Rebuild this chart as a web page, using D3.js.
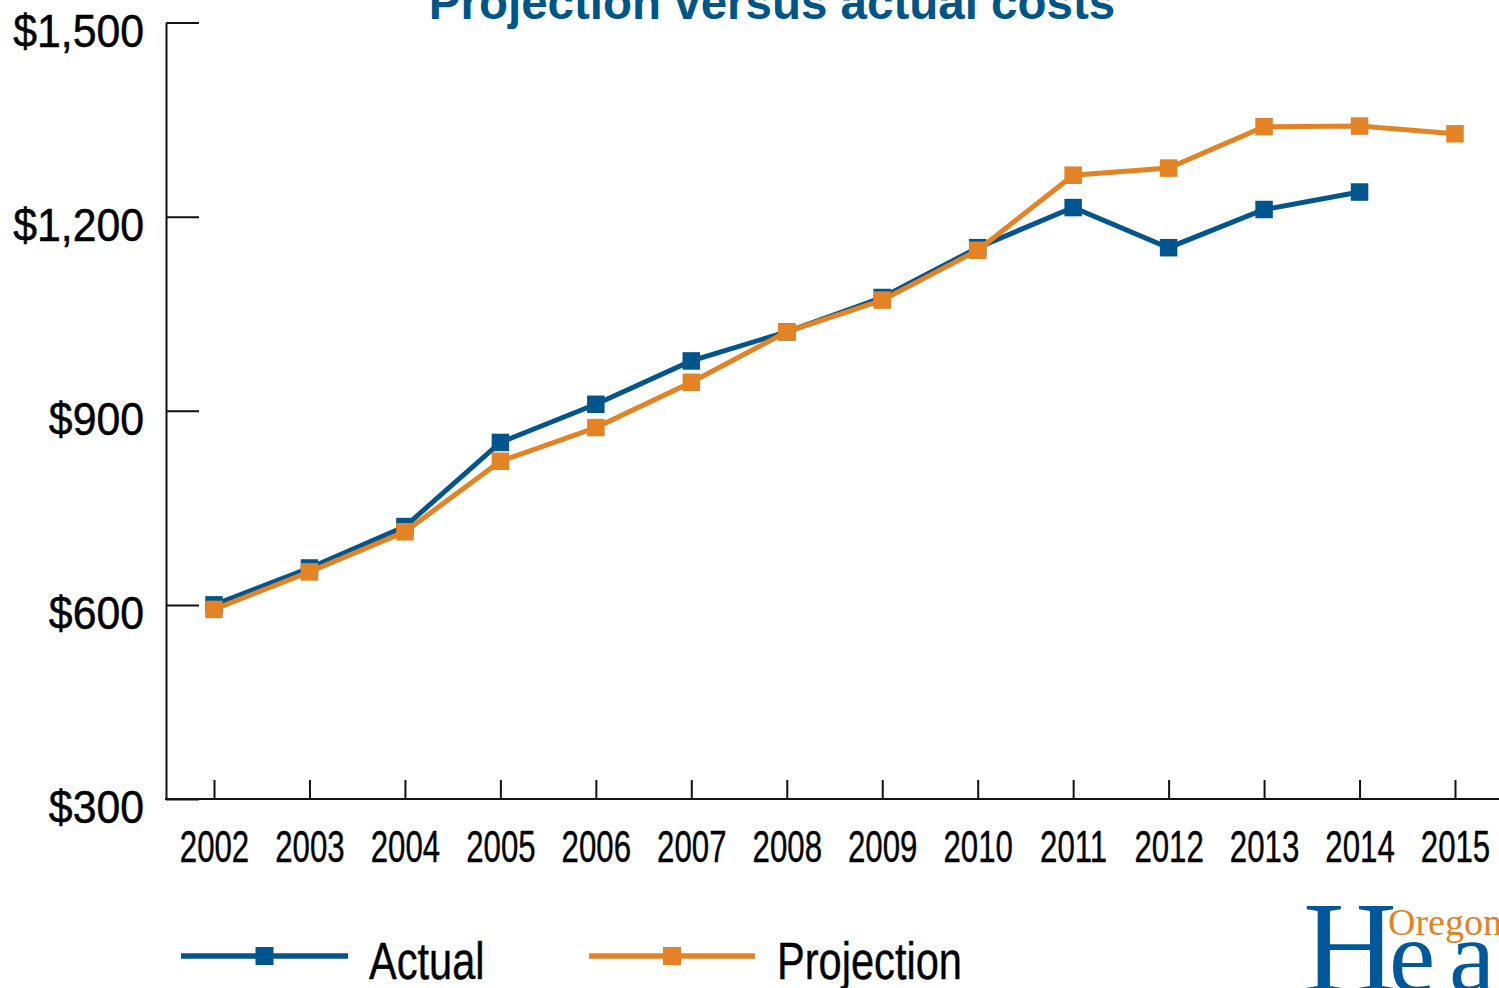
<!DOCTYPE html>
<html>
<head>
<meta charset="utf-8">
<script src="https://cdn.jsdelivr.net/npm/d3@7"></script>
<style>
  html, body { margin: 0; padding: 0; background: #fff; overflow: hidden; }
  svg { display: block; }
</style>
</head>
<body>
<svg id="chart" width="1499" height="988"></svg>
<script>
const years = [2002, 2003, 2004, 2005, 2006, 2007, 2008, 2009, 2010, 2011, 2012, 2013, 2014, 2015];
const actualYears = [2002, 2003, 2004, 2005, 2006, 2007, 2008, 2009, 2010, 2011, 2012, 2013, 2014];
const actual = [600, 657, 721, 851, 910, 977, 1022, 1075, 1152, 1214, 1152, 1211, 1238];
const projection = [593, 651, 713, 822, 874, 944, 1022, 1071, 1148, 1264, 1275, 1339, 1340, 1328];
const yTicks = [300, 600, 900, 1200, 1500];
const yTickLabels = ["$300", "$600", "$900", "$1,200", "$1,500"];
const seriesNames = ["Actual", "Projection"];
const title = "Projection versus actual costs";

const BLUE = "#00558c";
const ORANGE = "#e38325";
const AXIS = "#111";
const SANS = '"Liberation Sans", Arial, Helvetica, sans-serif';
const SERIF = '"Liberation Serif", "DejaVu Serif", "Times New Roman", serif';

const svg = d3.select("#chart");

const x = d3.scaleLinear().domain([2002, 2015]).range([214, 1455]);
const y = d3.scaleLinear().domain([300, 1500]).range([799, 22.5]);
const axisX0 = 166;

// Title
svg.append("text")
  .attr("x", 772).attr("y", 18.5)
  .attr("text-anchor", "middle")
  .style("font-family", SANS)
  .style("font-weight", "bold")
  .style("font-size", "47.5px")
  .attr("fill", "#005587")
  .text(title);

// Y axis
const yAxis = d3.axisLeft(y)
  .tickValues(yTicks)
  .tickSize(-33)
  .tickSizeOuter(0)
  .tickPadding(22)
  .tickFormat(d => yTickLabels[yTicks.indexOf(d)]);
const gy = svg.append("g").attr("transform", `translate(${axisX0},0)`).call(yAxis);
gy.select(".domain").attr("stroke", AXIS).attr("stroke-width", 2);
gy.selectAll(".tick line").attr("stroke", AXIS).attr("stroke-width", 2);
gy.selectAll(".tick text")
  .attr("x", null).attr("dy", null)
  .attr("transform", "translate(-22,23.5) scale(0.93,1)")
  .style("font-family", SANS)
  .style("font-size", "46px")
  .attr("fill", "#000")
  .attr("stroke", "#000").attr("stroke-width", 0.5);

// X axis
const xAxis = d3.axisBottom(x)
  .tickValues(years)
  .tickSize(-19)
  .tickSizeOuter(0)
  .tickFormat(d3.format("d"));
const gx = svg.append("g").attr("transform", `translate(0,${y(300)})`).call(xAxis);
gx.select(".domain").remove();
gx.selectAll(".tick line").attr("stroke", AXIS).attr("stroke-width", 2);
gx.selectAll(".tick text")
  .attr("y", null).attr("dy", null)
  .attr("transform", "translate(0,63) scale(0.71,1)")
  .style("font-family", SANS)
  .style("font-size", "44px")
  .attr("fill", "#000")
  .attr("stroke", "#000").attr("stroke-width", 0.4);
svg.append("line")
  .attr("x1", axisX0 - 1).attr("x2", 1499)
  .attr("y1", y(300)).attr("y2", y(300))
  .attr("stroke", AXIS).attr("stroke-width", 2);

// Series
const line = d3.line().x(d => x(d[0])).y(d => y(d[1]));
const actualPts = actualYears.map((yr, i) => [yr, actual[i]]);
const projPts = years.map((yr, i) => [yr, projection[i]]);
const MS = 17.5;

function drawSeries(pts, color) {
  svg.append("path")
    .datum(pts)
    .attr("d", line)
    .attr("fill", "none")
    .attr("stroke", color)
    .attr("stroke-width", 5);
  svg.append("g").selectAll("rect")
    .data(pts)
    .join("rect")
    .attr("x", d => x(d[0]) - MS / 2)
    .attr("y", d => y(d[1]) - MS / 2)
    .attr("width", MS).attr("height", MS)
    .attr("fill", color);
}
drawSeries(actualPts, BLUE);
drawSeries(projPts, ORANGE);

// Legend
const legend = [
  { name: seriesNames[0], color: BLUE, x1: 181, x2: 348, tx: 369 },
  { name: seriesNames[1], color: ORANGE, x1: 589, x2: 755, tx: 777 }
];
const lg = svg.append("g");
legend.forEach(l => {
  lg.append("line")
    .attr("x1", l.x1).attr("x2", l.x2)
    .attr("y1", 956).attr("y2", 956)
    .attr("stroke", l.color).attr("stroke-width", 5.5);
  lg.append("rect")
    .attr("x", (l.x1 + l.x2) / 2 - 9).attr("y", 947)
    .attr("width", 18).attr("height", 18)
    .attr("fill", l.color);
  lg.append("text")
    .attr("transform", `translate(${l.tx},979) scale(0.8,1)`)
    .style("font-family", SANS)
    .style("font-size", "52px")
    .attr("fill", "#000")
    .attr("stroke", "#000").attr("stroke-width", 0.4)
    .text(l.name);
});

// Logo (partially cut off at the page edge)
const logo = svg.append("text")
  .attr("x", 1303).attr("y", 991)
  .style("font-family", SERIF)
  .attr("fill", "#00579a");
logo.append("tspan").style("font-size", "130px").text("H");
logo.append("tspan").attr("dx", -8)
  .style("font-size", "104px")
  .style("letter-spacing", "14px")
  .text("ealth");
svg.append("text")
  .attr("x", 1388).attr("y", 935)
  .style("font-family", SERIF)
  .style("font-size", "38px")
  .attr("fill", ORANGE)
  .text("Oregon");
</script>
</body>
</html>
